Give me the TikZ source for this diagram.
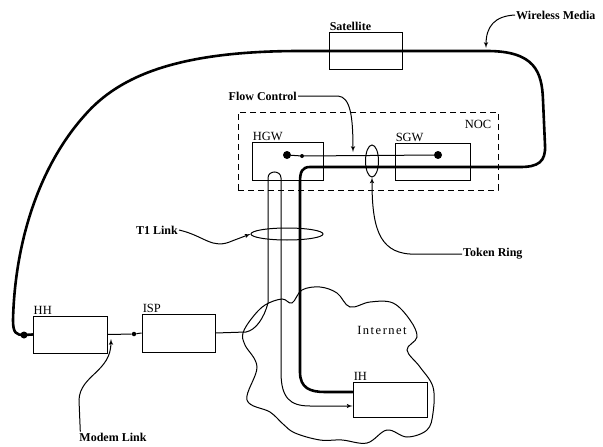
\documentclass[tikz,border=0pt]{standalone}
\usepackage{fontspec}
\setmainfont{Liberation Serif}
\usetikzlibrary{shapes.geometric, arrows, positioning, calc}

\begin{document}
\begin{tikzpicture}[x=1pt, y=-1pt,
        box/.style={rectangle, draw, line width=0.9pt, inner sep=0pt},
        boxlabel/.style={font=\fontsize{12.5}{12.5}\selectfont, anchor=south west, inner sep=1pt},
        note/.style={font=\fontsize{12}{12}\selectfont\bfseries, inner sep=1pt},
        ring/.style={ellipse, draw, line width=1pt, inner sep=0pt},
        bigdot/.style={circle, fill, inner sep=0pt, minimum size=8pt},
        smalldot/.style={circle, fill, inner sep=0pt, minimum size=4.5pt},
        wire/.style={line width=2.6pt, line cap=round, line join=round},
        link/.style={line width=1pt},
        callout/.style={line width=1pt, -latex'}]

        \useasboundingbox (0,0) rectangle (603,447);

        % network operations centre
        \node [rectangle, draw, dashed, dash pattern=on 6pt off 4pt, line width=0.9pt,
               minimum width=260pt, minimum height=78pt] (noc) at (368,151) {};
        \node [boxlabel, anchor=center] (noclbl) at (478,124) {NOC};

        \node [box, minimum width=73pt, minimum height=37pt,
               label={[boxlabel, note]north west:Satellite}] (sat) at (365.5,50.5) {};
        \node [box, minimum width=71pt, minimum height=38pt,
               label={[boxlabel]north west:HGW}] (hgw) at (287.5,161) {};
        \node [box, minimum width=75pt, minimum height=37pt,
               label={[boxlabel]north west:SGW}] (sgw) at (432.5,161.5) {};
        \node [box, minimum width=74pt, minimum height=37pt,
               label={[boxlabel]north west:HH}] (hh) at (70,334.5) {};
        \node [box, minimum width=73pt, minimum height=38pt,
               label={[boxlabel]north west:ISP}] (isp) at (178.5,333) {};
        \node [box, minimum width=74pt, minimum height=35pt,
               label={[boxlabel]north west:IH}] (ih) at (390,399.5) {};

        % the internet cloud
        \draw [link] plot [smooth cycle, tension=0.6] coordinates {
            (265,305) (282,299) (292,303) (302,290) (320,287) (337,293) (350,307)
            (370,302) (393,303) (410,320) (417,337) (407,350) (420,367) (433,387)
            (433,413) (427,430) (407,437) (387,430) (367,443) (342,440) (320,440)
            (295,433) (283,424) (270,412) (247,400) (257,367) (245,345) (243,333)
            (252,318)};
        \node [boxlabel, anchor=center] (netlbl) at (382,330) {\addfontfeatures{LetterSpace=12}Internet};

        \node [ring, minimum width=72pt, minimum height=12pt] (t1) at (287,234) {};
        \node [ring, minimum width=13pt, minimum height=32pt] (tok) at (372,161) {};

        \node [bigdot] (hgwdot) at (287,155) {};
        \node [smalldot, minimum size=4pt] (flowdot) at (302,156) {};
        \node [bigdot] (sgwdot) at (438,155) {};
        \node [bigdot, minimum size=7pt] (hhdot) at (24,335) {};
        \node [smalldot] (ispdot) at (134,334) {};

        % wireless medium
        \draw [wire] (hh.west) -- (hhdot.center) .. controls (16,335) and (13,333) .. (13,320)
            .. controls (15,240) and (40,165) .. (85,115)
            .. controls (120,75) and (180,51) .. (300,51) -- (487,51)
            .. controls (535,51) and (542,72) .. (543,100) -- (545,145)
            .. controls (546,162) and (538,167) .. (520,167) -- (310,167)
            .. controls (302,167) and (300,172) .. (300,182) -- (300,372)
            .. controls (300,388) and (310,392) .. (325,392) -- ([yshift=7.5pt]ih.west);

        % terrestrial links
        \draw [link] (hgwdot) -- (flowdot) -- (sgwdot);
        \draw [link] (hh.east) -- (ispdot) -- (isp.west);
        \draw [link, -latex'] (isp.east) -- (246,332) .. controls (256,330) and (264,318) .. (268,303)
            -- (268,178) .. controls (268,170) and (281,170) .. (281,178) -- (281,372)
            .. controls (281,398) and (290,406) .. (310,406) -- ([yshift=-6.5pt]ih.west);

        % callouts
        \node [note, anchor=west] (wirelbl) at (515,15) {Wireless Media};
        \draw [callout] (wirelbl.west) .. controls (495,16) and (486,26) .. (486,48);

        \node [note, anchor=east] (flowlbl) at (298,96) {Flow Control};
        \draw [callout] (flowlbl.east) -- (338,96) .. controls (350,97) and (353,115) .. (353,152);

        \node [note] (t1lbl) at (157,230) {T1 Link};
        \draw [callout] (t1lbl.east) .. controls (205,236) and (212,250) .. (232,241) -- (t1.west);

        \node [note, anchor=west] (toklbl) at (462,254) {Token Ring};
        \draw [callout] (toklbl.west) -- (410,254) .. controls (378,252) and (372,225) .. (tok.south);

        \node [note] (modemlbl) at (113,437) {Modem Link};
        \draw [callout] ([xshift=2pt]modemlbl.north west) -- (79,400)
            .. controls (80,375) and (111,372) .. (111,339);
    \end{tikzpicture}
\end{document}
